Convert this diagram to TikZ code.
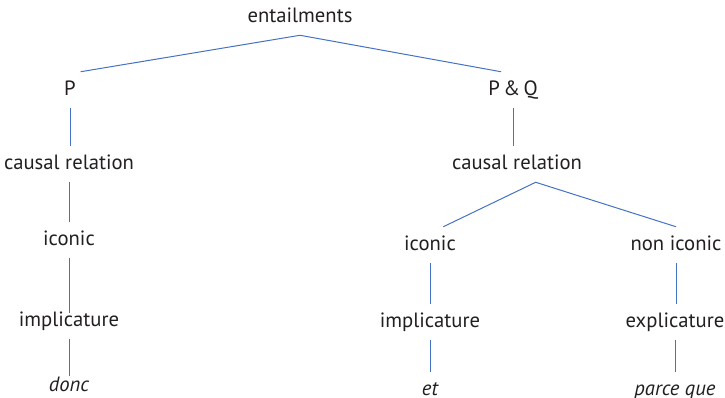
\documentclass[tikz,border=0pt]{standalone}
\usepackage{fontspec}
\setmainfont{PT Sans}
\definecolor{inkgray}{HTML}{231F20}
\definecolor{linkblue}{HTML}{4472C4}
\tikzset{
  lbl/.style={text=inkgray, font=\fontsize{15.5}{18}\selectfont,
    inner sep=0pt, minimum height=27pt, text height=0.9em, text depth=0.1em},
  link/.style={draw=linkblue, line width=0.75pt}
}
\begin{document}
\begin{tikzpicture}[x=0.75pt,y=-0.75pt]
\useasboundingbox (0,0) rectangle (725,397);
% top
\node[lbl] (ent) at (300,17) {entailments};
\node[lbl] (p) at (70,90) {P};
\node[lbl] (pq) at (513,90) {P\,\&\,Q};
% left branch
\node[lbl] (lcaus) at (69,164) {causal relation};
\node[lbl] (licon) at (69,240) {iconic};
\node[lbl] (limp) at (69,321) {implicature};
\node[lbl] (donc) at (69,386) {\itshape donc};
% right branch
\node[lbl] (rcaus) at (517,164) {causal relation};
\node[lbl] (ricon) at (430,245) {iconic};
\node[lbl] (nicon) at (676,245) {non iconic};
\node[lbl] (rimp) at (430,322) {implicature};
\node[lbl] (expl) at (675,322) {explicature};
\node[lbl] (et) at (430,390) {\itshape et};
\node[lbl] (pque) at (675,390) {\itshape parce que};
% connectors
\draw[link] ([xshift=8pt]p.north) -- (ent.south) -- ([xshift=-9pt]pq.north);
\draw[link] (lcaus.south) -- (lcaus.south |- licon.north);
\draw[link] (p.south) -- (p.south |- lcaus.north);
\draw[link, shorten >=-7.5pt] (licon.south) -- (licon.south |- limp.north);
\draw[link, shorten >=-6pt] (limp.south) -- (limp.south |- donc.north);
\draw[link] (pq.south) -- (pq.south |- rcaus.north);
\draw[link] ([xshift=10pt]ricon.north) -- ([xshift=14pt]rcaus.south) -- (nicon.north);
\draw[link] (ricon.south) -- (ricon.south |- rimp.north);
\draw[link] (rimp.south) -- (rimp.south |- et.north);
\draw[link] (nicon.south) -- (nicon.south |- expl.north);
\draw[link] (expl.south) -- (expl.south |- pque.north);
\end{tikzpicture}
\end{document}
